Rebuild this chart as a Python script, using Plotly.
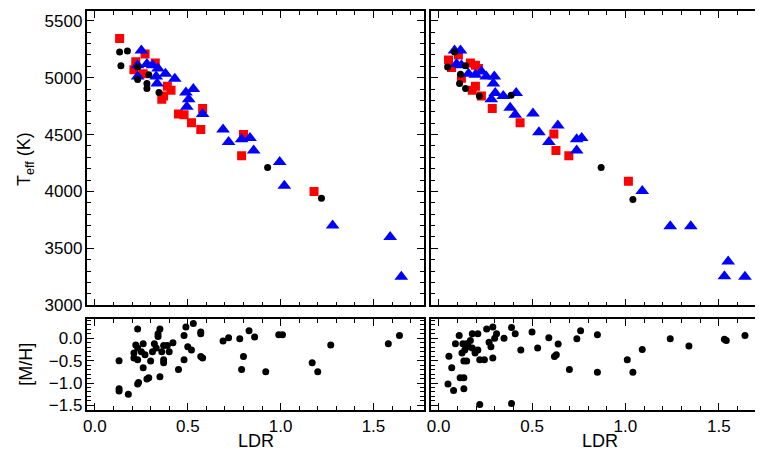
import plotly.graph_objects as go

# Left top panel
L_red_x = [0.133,0.27,0.22,0.21,0.325,0.26,0.39,0.41,0.37,0.36,0.58,0.45,0.48,0.52,0.57,0.80,0.79,1.18]
L_red_y = [5345,5208,5140,5070,5130,5035,4925,4890,4840,4810,4730,4680,4675,4605,4545,4500,4315,4000]
L_blue_x = [0.25,0.23,0.28,0.31,0.34,0.38,0.43,0.23,0.335,0.33,0.53,0.49,0.505,0.495,0.58,0.69,0.72,0.79,0.835,0.855,0.995,1.02,1.28,1.59,1.65]
L_blue_y = [5240,5110,5120,5110,5080,5035,4990,5010,4950,5010,4900,4870,4810,4745,4680,4545,4435,4460,4470,4360,4260,4050,3700,3600,3250]
L_blk_x = [0.133,0.175,0.14,0.23,0.29,0.23,0.28,0.28,0.345,0.93,1.22]
L_blk_y = [5225,5235,5105,5095,5025,4985,4950,4905,4870,4210,3940]

# Right top panel
R_red_x = [0.053,0.106,0.069,0.17,0.197,0.213,0.122,0.197,0.18,0.229,0.287,0.436,0.617,0.628,0.697,1.016]
R_red_y = [5155,5200,5090,5130,5110,5080,4995,4925,4890,4840,4730,4605,4505,4360,4315,4090]
R_blue_x = [0.085,0.117,0.096,0.122,0.16,0.197,0.229,0.255,0.298,0.293,0.303,0.282,0.346,0.415,0.383,0.41,0.505,0.638,0.537,0.59,0.739,0.766,0.739,1.09,1.24,1.35,1.55,1.53,1.64]
R_blue_y = [5240,5240,5120,5110,5035,5025,5055,5010,5010,4950,4865,4810,4840,4865,4735,4675,4685,4580,4520,4435,4460,4470,4360,4005,3695,3695,3385,3255,3250]
R_blk_x = [0.085,0.048,0.144,0.117,0.112,0.144,0.218,0.388,0.87,1.04]
R_blk_y = [5225,5095,5105,5030,4950,4905,4840,4845,4210,3930]

# Bottom panels [M/H]
L_mh_x = [0.13,0.13,0.13,0.18,0.23,0.22,0.21,0.21,0.23,0.23,0.25,0.26,0.27,0.26,0.23,0.235,0.28,0.29,0.30,0.31,0.32,0.33,0.34,0.34,0.35,0.36,0.37,0.35,0.37,0.37,0.39,0.40,0.42,0.45,0.48,0.48,0.49,0.50,0.52,0.53,0.57,0.57,0.57,0.58,0.69,0.72,0.78,0.80,0.79,0.83,0.86,0.92,0.99,1.01,1.17,1.20,1.27,1.58,1.64]
L_mh_y = [-0.50,-1.13,-1.18,-1.25,0.21,-0.15,-0.33,-0.44,-0.48,-0.22,-0.30,-0.12,-0.37,-0.66,-1.02,-0.99,-0.91,-0.88,-0.51,-0.30,-0.12,-0.22,0.10,0.04,0.21,-0.30,-0.16,-0.86,-0.55,-0.48,-0.16,-0.30,-0.10,-0.70,-0.48,0.06,0.25,-0.19,-0.26,0.33,0.14,0.10,-0.41,-0.44,-0.06,0.01,-0.01,-0.41,-0.70,0.17,0.03,-0.75,0.08,0.08,-0.55,-0.75,-0.15,-0.12,0.06]
R_mh_x = [0.055,0.07,0.08,0.05,0.09,0.11,0.115,0.125,0.13,0.135,0.14,0.15,0.135,0.135,0.15,0.16,0.17,0.18,0.18,0.195,0.21,0.21,0.22,0.22,0.245,0.257,0.27,0.28,0.29,0.29,0.30,0.31,0.35,0.39,0.39,0.41,0.44,0.50,0.53,0.59,0.62,0.63,0.64,0.70,0.74,0.76,0.85,0.85,1.01,1.04,1.09,1.24,1.34,1.53,1.54,1.64]
R_mh_y = [-0.40,-0.66,-1.17,-1.02,-0.12,0.06,-0.88,-0.33,-0.12,-0.51,-0.26,-0.12,-0.88,-1.13,-0.51,-0.19,-0.05,0.10,-0.22,-0.33,0.10,-0.26,-0.48,-1.48,-0.48,0.21,-0.09,-0.19,-0.44,0.25,0.00,0.10,0.00,0.24,-1.46,0.10,-0.26,0.14,-0.22,0.01,-0.41,-0.37,-0.13,-0.70,-0.01,0.17,0.08,-0.76,-0.48,-0.76,-0.25,-0.01,-0.17,-0.02,-0.05,0.06]

FONT = "Liberation Sans"
fig = go.Figure()

def add(x, y, color, symbol, size, xa, ya):
    fig.add_trace(go.Scatter(x=x, y=y, mode="markers", xaxis=xa, yaxis=ya, showlegend=False,
                             marker=dict(color=color, symbol=symbol, size=size, line=dict(width=0))))

add(L_red_x, L_red_y, "#ff0000", "square", 9, "x", "y")
add(L_blue_x, L_blue_y, "#0000ff", "triangle-up", 12, "x", "y")
add(L_blk_x, L_blk_y, "black", "circle", 7, "x", "y")
add(R_red_x, R_red_y, "#ff0000", "square", 9, "x2", "y2")
add(R_blue_x, R_blue_y, "#0000ff", "triangle-up", 12, "x2", "y2")
add(R_blk_x, R_blk_y, "black", "circle", 7, "x2", "y2")
add(L_mh_x, L_mh_y, "black", "circle", 7, "x3", "y3")
add(R_mh_x, R_mh_y, "black", "circle", 7, "x4", "y4")

XR = [-0.04, 1.77]
common = dict(showline=True, mirror="ticks", linecolor="black", linewidth=1.5, ticks="inside",
              ticklen=7, tickwidth=1.2, tickcolor="black", showgrid=False, zeroline=False,
              tickfont=dict(family=FONT, size=17, color="black"),
              minor=dict(ticks="inside", ticklen=4, tickcolor="black", showgrid=False))
LD = [0.0996, 0.543]
RD = [0.553, 0.999]
TD = [0.332, 0.993]
BD = [0.097, 0.301]
fig.update_layout(
    width=763, height=455, margin=dict(l=0, r=0, t=0, b=0),
    plot_bgcolor="white", paper_bgcolor="white",
    xaxis=dict(domain=LD, range=XR, anchor="y", showticklabels=False, dtick=0.5, **common),
    yaxis=dict(domain=TD, range=[3000, 5585], anchor="x", dtick=500, **common),
    xaxis2=dict(domain=RD, range=XR, anchor="y2", showticklabels=False, dtick=0.5, **common),
    yaxis2=dict(domain=TD, range=[3000, 5585], anchor="x2", dtick=500, showticklabels=False, **common),
    xaxis3=dict(domain=LD, range=XR, anchor="y3", dtick=0.5, tickformat=".1f", **common),
    yaxis3=dict(domain=BD, range=[-1.6, 0.43], anchor="x3", dtick=0.5, tickformat=".1f", **common),
    xaxis4=dict(domain=RD, range=XR, anchor="y4", dtick=0.5, tickformat=".1f", **common),
    yaxis4=dict(domain=BD, range=[-1.6, 0.43], anchor="x4", dtick=0.5, showticklabels=False, **common),
)
fig.update_xaxes(minor_dtick=0.1)
fig.update_yaxes(minor_dtick=100, selector=dict(anchor="x"))
fig.update_yaxes(minor_dtick=100, selector=dict(anchor="x2"))
fig.update_yaxes(minor_dtick=0.1, selector=dict(anchor="x3"))
fig.update_yaxes(minor_dtick=0.1, selector=dict(anchor="x4"))

tf = dict(family=FONT, size=18, color="black")
fig.add_annotation(text="LDR", x=0.3213, y=0.0, xref="paper", yref="paper", xanchor="center", yanchor="bottom", showarrow=False, font=tf)
fig.add_annotation(text="LDR", x=0.776, y=0.0, xref="paper", yref="paper", xanchor="center", yanchor="bottom", showarrow=False, font=tf)
fig.add_annotation(text="T<sub>eff</sub> (K)", x=0.018, y=0.66, xref="paper", yref="paper", xanchor="center", yanchor="middle", textangle=-90, showarrow=False, font=tf)
fig.add_annotation(text="[M/H]", x=0.018, y=0.2, xref="paper", yref="paper", xanchor="center", yanchor="middle", textangle=-90, showarrow=False, font=tf)

fig.write_html("out.html")
